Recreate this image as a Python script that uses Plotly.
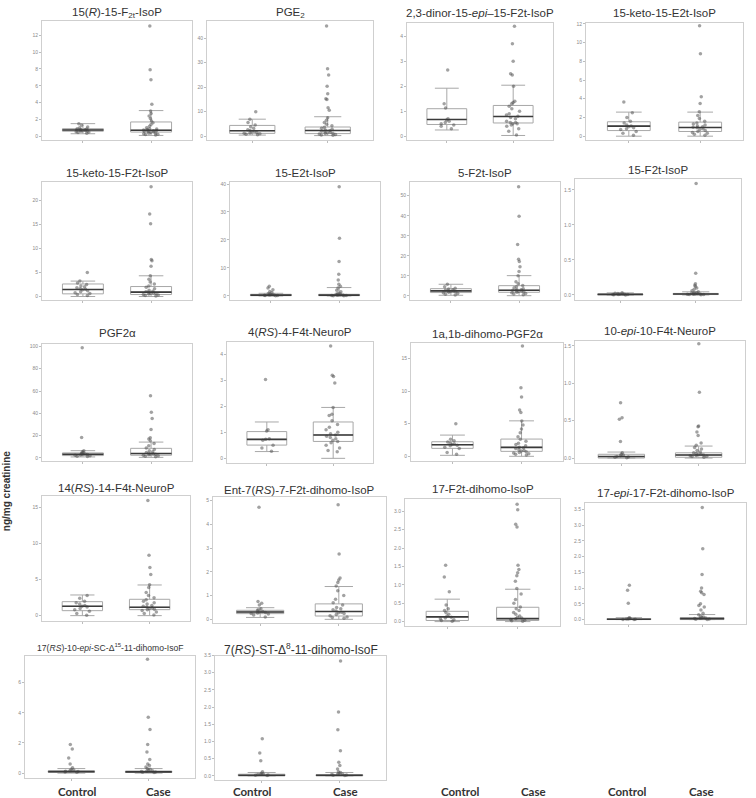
import plotly.graph_objects as go

W, H = 756, 798

groups = ["Control", "Case"]

titles = [
    "15(<i>R</i>)-15-F<sub>2t</sub>-IsoP", "PGE<sub>2</sub>",
    "2,3-dinor-15-<i>epi</i>–15-F2t-IsoP", "15-keto-15-E2t-IsoP",
    "15-keto-15-F2t-IsoP", "15-E2t-IsoP", "5-F2t-IsoP", "15-F2t-IsoP",
    "PGF2α", "4(<i>RS</i>)-4-F4t-NeuroP", "1a,1b-dihomo-PGF2α", "10-<i>epi</i>-10-F4t-NeuroP",
    "14(<i>RS</i>)-14-F4t-NeuroP", "Ent-7(<i>RS</i>)-7-F2t-dihomo-IsoP",
    "17-F2t-dihomo-IsoP", "17-<i>epi</i>-17-F2t-dihomo-IsoP",
    "17(<i>RS</i>)-10-<i>epi</i>-SC-Δ<sup>15</sup>-11-dihomo-IsoF",
    "7(<i>RS</i>)-ST-Δ<sup>8</sup>-11-dihomo-IsoF",
]

# Control group statistics
ctrl_q1 = [0.6, 1.1, 0.47, 0.6, 0.55, 0.1, 1.65, 0.003, 2.1, 0.51, 1.22, 0.0, 0.69, 0.24, 0.03, 0.0, 0.05, 0.0]
ctrl_med = [0.75, 2.2, 0.67, 1.07, 1.45, 0.3, 2.5, 0.008, 3.3, 0.73, 1.78, 0.02, 1.3, 0.31, 0.13, 0.01, 0.1, 0.02]
ctrl_q3 = [0.9, 4.35, 1.1, 1.54, 2.6, 0.6, 3.6, 0.014, 4.5, 1.03, 2.23, 0.05, 1.94, 0.38, 0.28, 0.03, 0.15, 0.05]
ctrl_lo = [0.3, 0.4, 0.25, 0.0, 0.0, 0.0, 0.3, 0.0, 0.9, 0.26, 0.15, 0.0, 0.0, 0.08, 0.0, 0.0, 0.0, 0.0]
ctrl_hi = [1.5, 6.9, 1.92, 2.57, 3.2, 0.95, 5.8, 0.03, 6.5, 1.4, 3.25, 0.08, 2.87, 0.49, 0.61, 0.06, 0.3, 0.1]

# Case group statistics
case_q1 = [0.5, 1.0, 0.53, 0.5, 0.41, 0.1, 1.8, 0.006, 2.4, 0.65, 0.76, 0.01, 0.83, 0.14, 0.03, 0.0, 0.04, 0.0]
case_med = [0.72, 2.3, 0.79, 0.93, 0.9, 0.3, 2.8, 0.013, 3.9, 0.9, 1.37, 0.04, 1.16, 0.33, 0.08, 0.03, 0.08, 0.02]
case_q3 = [1.7, 3.7, 1.23, 1.5, 2.07, 0.6, 5.1, 0.022, 8.6, 1.4, 2.64, 0.07, 2.27, 0.65, 0.39, 0.06, 0.14, 0.04]
case_lo = [0.1, 0.2, 0.03, 0.0, 0.0, 0.0, 0.1, 0.0, 0.5, 0.0, 0.0, 0.0, 0.0, 0.0, 0.0, 0.0, 0.0, 0.0]
case_hi = [3.05, 7.9, 2.04, 2.57, 4.3, 3.0, 10.1, 0.045, 14.2, 1.96, 5.43, 0.16, 4.26, 1.38, 0.88, 0.16, 0.3, 0.1]

# Individual points
ctrl_points = [
    [0.35, 0.45, 0.5, 0.55, 0.6, 0.62, 0.65, 0.7, 0.72, 0.75, 0.78, 0.8, 0.85, 0.9, 1.0, 1.1, 1.3, 1.5],
    [9.9, 6.9, 5.5, 4.5, 3.8, 3.2, 2.6, 2.3, 2.0, 1.8, 1.5, 1.3, 1.1, 0.9, 0.7, 0.5],
    [2.65, 1.3, 1.13, 0.7, 0.65, 0.6, 0.55, 0.5, 0.45, 0.4, 0.3],
    [3.64, 2.5, 2.0, 1.6, 1.4, 1.2, 1.1, 1.0, 0.9, 0.8, 0.7, 0.5, 0.3, 0.1],
    [5.0, 3.2, 2.8, 2.5, 2.2, 2.0, 1.8, 1.6, 1.5, 1.4, 1.2, 1.0, 0.8, 0.6, 0.4, 0.2],
    [3.5, 2.8, 2.2, 1.6, 1.2, 0.9, 0.7, 0.5, 0.4, 0.35, 0.3, 0.25, 0.2, 0.15, 0.1],
    [5.8, 4.5, 3.8, 3.4, 3.0, 2.8, 2.6, 2.4, 2.2, 2.0, 1.8, 1.5, 1.2, 0.8, 0.4],
    [0.03, 0.025, 0.02, 0.015, 0.012, 0.01, 0.008, 0.006, 0.005, 0.003, 0.001],
    [98.8, 18.4, 6.5, 5.5, 4.8, 4.2, 3.8, 3.5, 3.2, 3.0, 2.7, 2.4, 2.0, 1.6, 1.2],
    [3.04, 1.1, 1.05, 0.75, 0.73, 0.7, 0.5, 0.4, 0.27],
    [4.97, 2.6, 2.4, 2.2, 2.0, 1.9, 1.8, 1.7, 1.6, 1.4, 1.2, 0.6, 0.3],
    [0.74, 0.54, 0.52, 0.22, 0.07, 0.05, 0.04, 0.03, 0.02, 0.015, 0.01, 0.005],
    [2.8, 2.4, 2.0, 1.8, 1.6, 1.4, 1.3, 1.2, 1.0, 0.8, 0.6, 0.3, 0.05],
    [4.72, 0.75, 0.68, 0.6, 0.45, 0.4, 0.36, 0.33, 0.31, 0.29, 0.27, 0.25, 0.22, 0.18, 0.1],
    [1.53, 1.21, 0.81, 0.45, 0.35, 0.3, 0.25, 0.2, 0.15, 0.12, 0.1, 0.08, 0.05, 0.03, 0.01],
    [1.09, 0.93, 0.52, 0.06, 0.04, 0.03, 0.02, 0.015, 0.01, 0.005, 0.0],
    [1.9, 1.6, 1.0, 0.6, 0.35, 0.25, 0.2, 0.15, 0.12, 0.1, 0.08, 0.05],
    [1.08, 0.67, 0.44, 0.12, 0.08, 0.06, 0.05, 0.04, 0.03, 0.02, 0.01],
]
case_points = [
    [13.1, 7.9, 6.7, 3.8, 3.0, 2.7, 2.4, 2.1, 1.8, 1.6, 1.4, 1.2, 1.0, 0.9, 0.85, 0.8, 0.75, 0.7, 0.7, 0.65,
     0.6, 0.55, 0.5, 0.45, 0.4, 0.35, 0.3, 0.25, 0.2, 0.15],
    [44.9, 27.5, 24.9, 20.3, 17.3, 15.2, 14.9, 11.6, 10.5, 7.5, 6.5, 5.5, 4.8, 4.2, 3.6, 3.2, 2.8, 2.5, 2.2,
     2.0, 1.8, 1.6, 1.4, 1.2, 1.0, 0.8, 0.6, 0.4, 0.3],
    [4.4, 3.7, 3.0, 2.5, 2.45, 2.0, 1.4, 1.35, 1.3, 1.2, 1.1, 1.0, 0.9, 0.85, 0.8, 0.75, 0.7, 0.6, 0.55, 0.55,
     0.5, 0.5, 0.45, 0.4, 0.3, 0.2, 0.05],
    [11.8, 8.8, 4.2, 3.5, 2.6, 2.2, 1.9, 1.6, 1.4, 1.3, 1.2, 1.1, 1.0, 0.95, 0.9, 0.8, 0.7, 0.6, 0.5, 0.4,
     0.3, 0.2, 0.1],
    [22.8, 17.1, 15.1, 7.7, 7.4, 6.3, 4.3, 3.6, 3.0, 2.6, 2.2, 1.9, 1.6, 1.3, 1.1, 1.0, 0.9, 0.8, 0.7, 0.6,
     0.5, 0.4, 0.3, 0.2, 0.1],
    [39.0, 20.6, 12.3, 7.8, 5.7, 4.2, 3.5, 2.8, 2.0, 1.5, 1.0, 0.8, 0.6, 0.5, 0.4, 0.35, 0.3, 0.25, 0.2,
     0.15, 0.1, 0.05],
    [54.5, 39.7, 25.6, 18.3, 17.2, 14.5, 12.2, 10.0, 7.0, 6.0, 5.2, 4.5, 4.0, 3.5, 3.2, 3.0, 2.8, 2.6, 2.4,
     2.2, 2.0, 1.8, 1.5, 1.2, 0.9, 0.5],
    [1.59, 0.31, 0.16, 0.14, 0.12, 0.1, 0.08, 0.06, 0.045, 0.035, 0.03, 0.025, 0.02, 0.017, 0.015, 0.013,
     0.011, 0.009, 0.007, 0.005, 0.003],
    [55.7, 40.9, 35.3, 25.5, 18.0, 17.0, 15.5, 13.0, 11.0, 9.0, 7.5, 6.5, 5.5, 4.8, 4.2, 3.8, 3.5, 3.2, 2.8,
     2.5, 2.0, 1.5, 1.0],
    [4.33, 3.2, 3.15, 2.9, 1.96, 1.7, 1.65, 1.45, 1.3, 1.2, 1.1, 1.0, 0.95, 0.9, 0.85, 0.8, 0.75, 0.7, 0.65,
     0.6, 0.5, 0.4, 0.3, 0.25],
    [16.9, 10.5, 9.1, 7.1, 6.7, 5.4, 4.8, 4.2, 3.6, 3.0, 2.6, 2.3, 2.0, 1.8, 1.6, 1.4, 1.3, 1.2, 1.0, 0.9,
     0.8, 0.7, 0.6, 0.5, 0.4, 0.3, 0.2],
    [1.53, 0.88, 0.43, 0.42, 0.35, 0.3, 0.2, 0.17, 0.14, 0.12, 0.1, 0.08, 0.07, 0.06, 0.05, 0.045, 0.04,
     0.035, 0.03, 0.025, 0.02, 0.01],
    [16.0, 8.4, 6.7, 5.7, 4.3, 3.9, 3.2, 2.8, 2.5, 2.2, 2.0, 1.8, 1.6, 1.4, 1.3, 1.2, 1.1, 1.0, 0.9, 0.8,
     0.7, 0.5, 0.3, 0.1],
    [4.82, 2.75, 1.74, 1.65, 1.55, 1.4, 1.2, 1.0, 0.85, 0.7, 0.6, 0.5, 0.45, 0.4, 0.35, 0.3, 0.28, 0.25,
     0.2, 0.15, 0.1, 0.08, 0.05],
    [3.19, 3.04, 2.65, 2.57, 1.53, 1.42, 1.33, 1.25, 1.1, 0.9, 0.75, 0.6, 0.5, 0.4, 0.35, 0.3, 0.25, 0.2,
     0.15, 0.12, 0.1, 0.08, 0.06, 0.04, 0.02, 0.01],
    [3.56, 2.25, 1.43, 1.0, 0.9, 0.85, 0.8, 0.5, 0.45, 0.4, 0.3, 0.2, 0.15, 0.1, 0.08, 0.06, 0.05, 0.04,
     0.03, 0.02, 0.01, 0.0],
    [7.55, 3.7, 2.9, 1.9, 1.4, 0.9, 0.6, 0.5, 0.4, 0.3, 0.25, 0.2, 0.15, 0.12, 0.1, 0.08, 0.06, 0.04],
    [3.34, 1.86, 1.34, 0.73, 0.4, 0.3, 0.2, 0.12, 0.1, 0.08, 0.06, 0.05, 0.04, 0.03, 0.02, 0.01],
]

# y-axis tick steps per panel
y_dtick = [2, 10, 1, 2, 5, 10, 10, 0.5, 20, 1, 5, 0.5, 5, 1, 0.5, 0.5, 2, 0.5]

# ---------------- layout (pixel geometry) ----------------
y_range = [(-0.5, 13.7), (-1.8, 47), (-0.17, 4.53), (-0.46, 12.1), (-0.7, 23.7), (-1.4, 40.6),
           (-2, 56.7), (-0.07, 1.65), (-3, 102.4), (-0.19, 4.49), (-0.76, 17.4), (-0.07, 1.57),
           (-0.7, 16.6), (-0.14, 5.14), (-0.11, 3.33), (-0.13, 3.7), (-0.33, 7.8), (-0.12, 3.5)]
panel_px = [(42, 192, 18, 138), (207, 373, 18, 138), (407, 553, 20, 138), (586, 743, 20, 138),
            (42, 192, 180, 298), (230, 380, 180, 298), (410, 560, 180, 298), (575, 741, 177, 298),
            (42, 192, 342, 460), (227, 373, 340, 462), (411, 563, 341, 460), (575, 745, 339, 462),
            (42, 190, 495, 620), (213, 386, 496, 622), (405, 560, 498, 625), (585, 746, 502, 623),
            (25, 195, 655, 778), (215, 386, 655, 780)]
title_y = [10, 10, 10, 10, 171, 171, 171, 168, 331, 330, 332, 329, 487, 489, 488, 492, 647, 648]
title_size = [11.5] * 16 + [8.6, 12]

fig = go.Figure()
BOX_W = 0.6

for i in range(18):
    ax = "" if i == 0 else str(i + 1)
    xa, ya = "x" + ax, "y" + ax
    # box + whiskers
    fig.add_trace(go.Box(
        x=groups, q1=[ctrl_q1[i], case_q1[i]], median=[ctrl_med[i], case_med[i]],
        q3=[ctrl_q3[i], case_q3[i]], lowerfence=[ctrl_lo[i], case_lo[i]],
        upperfence=[ctrl_hi[i], case_hi[i]], boxpoints=False, width=BOX_W,
        fillcolor="white", line=dict(color="#a8a8a8", width=1), whiskerwidth=0.6,
        xaxis=xa, yaxis=ya, showlegend=False, hoverinfo="skip"))
    # individual points
    for g, pts in ((groups[0], ctrl_points[i]), (groups[1], case_points[i])):
        fig.add_trace(go.Box(
            y=pts, x0=g, boxpoints="all", jitter=0.45, pointpos=0, width=BOX_W,
            fillcolor="rgba(0,0,0,0)", line=dict(color="rgba(0,0,0,0)", width=0),
            marker=dict(size=3.5, color="rgba(85,85,85,0.55)"),
            xaxis=xa, yaxis=ya, showlegend=False))
    # darker median line
    meds = [ctrl_med[i], case_med[i]]
    fig.add_trace(go.Box(
        x=groups, q1=meds, median=meds, q3=meds, lowerfence=meds, upperfence=meds,
        boxpoints=False, width=BOX_W, fillcolor="rgba(0,0,0,0)",
        line=dict(color="#3a3a3a", width=1.6), whiskerwidth=0,
        xaxis=xa, yaxis=ya, showlegend=False, hoverinfo="skip"))

layout = dict(
    width=W, height=H, margin=dict(l=0, r=0, t=0, b=0),
    paper_bgcolor="white", plot_bgcolor="white", boxmode="overlay", showlegend=False,
)
annotations = []
for i in range(18):
    x0, x1, y0, y1 = panel_px[i]
    k = "" if i == 0 else str(i + 1)
    layout["xaxis" + k] = dict(
        domain=[x0 / W, x1 / W], anchor="y" + k if k else "y", type="category",
        categoryorder="array", categoryarray=groups, range=[-0.6, 1.6],
        showline=True, mirror=True, linecolor="#cfcfcf", linewidth=1,
        ticks="outside", ticklen=2, tickcolor="#bdbdbd", showticklabels=False,
        showgrid=False, zeroline=False, fixedrange=True)
    fmt = ".1f" if y_dtick[i] < 1 else ""
    layout["yaxis" + k] = dict(
        domain=[1 - y1 / H, 1 - y0 / H], anchor="x" + k if k else "x",
        range=list(y_range[i]), tick0=0, dtick=y_dtick[i], tickformat=fmt,
        showline=True, mirror=True, linecolor="#cfcfcf", linewidth=1,
        ticks="outside", ticklen=2, tickcolor="#bdbdbd",
        tickfont=dict(size=5, color="#8a8a8a", family="Liberation Sans"),
        showgrid=False, zeroline=False, fixedrange=True)
    annotations.append(dict(
        text=titles[i], x=(x0 + x1) / 2 / W, y=1 - title_y[i] / H, xref="paper", yref="paper",
        xanchor="center", yanchor="middle", showarrow=False,
        font=dict(size=title_size[i], color="#333333", family="Liberation Sans")))

# y-axis label
annotations.append(dict(
    text="<b>ng/mg creatinine</b>", x=6 / W, y=1 - 490 / H, xref="paper", yref="paper",
    textangle=-90, showarrow=False, xanchor="center", yanchor="middle",
    font=dict(size=10, color="#333333", family="Liberation Sans")))

# group labels along the bottom
label_x = [77, 158, 252, 345, 460, 533, 627, 701]
for j, lx in enumerate(label_x):
    annotations.append(dict(
        text="<b>" + groups[j % 2] + "</b>", x=lx / W, y=1 - 791 / H, xref="paper", yref="paper",
        xanchor="center", yanchor="middle", showarrow=False, borderpad=0,
        font=dict(size=11.5, color="#333333", family="Lato")))

layout["annotations"] = annotations
fig.update_layout(**layout)
fig.write_html(
    "out.html",
    config={"displayModeBar": False},
    post_script="document.body.style.margin='0';document.body.style.overflow='hidden';",
)
